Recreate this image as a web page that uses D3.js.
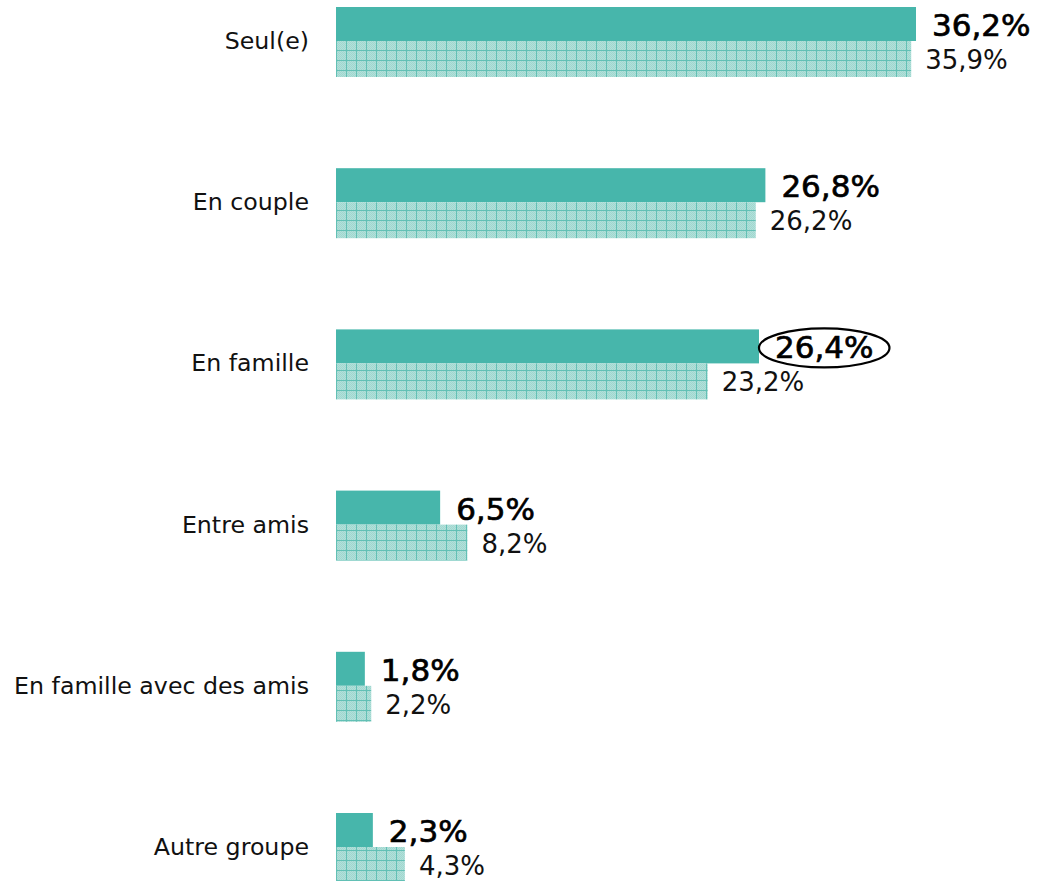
<!DOCTYPE html>
<html><head><meta charset="utf-8">
<script src="https://cdn.jsdelivr.net/npm/d3@7"></script>
<style>body{margin:0;background:#fff}</style>
</head><body>
<svg id="c" width="1037" height="881"></svg>
<script>
const categories = ["Seul(e)","En couple","En famille","Entre amis","En famille avec des amis","Autre groupe"];
const seriesA = [36.2, 26.8, 26.4, 6.5, 1.8, 2.3];
const seriesB = [35.9, 26.2, 23.2, 8.2, 2.2, 4.3];
const labelsA = ["36,2%","26,8%","26,4%","6,5%","1,8%","2,3%"];
const labelsB = ["35,9%","26,2%","23,2%","8,2%","2,2%","4,3%"];
const highlighted = ["En famille"];

const svg = d3.select("#c");
const defs = svg.append("defs");
const ck = defs.append("pattern").attr("id","chk").attr("patternUnits","userSpaceOnUse").attr("width",2).attr("height",2);
ck.append("rect").attr("width",2).attr("height",2).attr("fill","#b2e0da");
ck.append("rect").attr("width",1).attr("height",1).attr("fill","#a0d7cf");
ck.append("rect").attr("x",1).attr("y",1).attr("width",1).attr("height",1).attr("fill","#a0d7cf");
const p = defs.append("pattern").attr("id","grid").attr("patternUnits","userSpaceOnUse")
  .attr("width",10).attr("height",10).attr("x",336).attr("y",0);
p.append("rect").attr("width",10).attr("height",10).attr("fill","url(#chk)");
p.append("rect").attr("x",0).attr("y",0).attr("width",1).attr("height",10).attr("fill","#62c0b5");
p.append("rect").attr("x",0).attr("y",0).attr("width",10).attr("height",1).attr("fill","#62c0b5");

const x = d3.scaleLinear().domain([0, 36.2]).range([336, 916]);
const y = d3.scaleBand().domain(categories).range([7, 7 + 161.2 * categories.length]);
const bh = 34;

const g = svg.append("g");
categories.forEach((c, i) => {
  const top = y(c);
  g.append("rect").attr("x", x(0)).attr("y", top).attr("width", x(seriesA[i]) - x(0)).attr("height", bh).attr("fill", "#47b6ab");
  g.append("rect").attr("x", x(0)).attr("y", top + bh).attr("width", x(seriesB[i]) - x(0)).attr("height", 36).attr("fill", "url(#grid)");
  g.append("text").attr("x", 309).attr("y", top + 42).attr("text-anchor", "end")
    .attr("font-family", "'DejaVu Sans', sans-serif").attr("font-size", 23.7).attr("fill", "#111").text(c);
  const ta = g.append("text").attr("x", x(seriesA[i]) + 16).attr("y", top + 29)
    .attr("font-family", "'DejaVu Sans', sans-serif").attr("font-size", 31).attr("fill", "#000")
    .attr("stroke", "#000").attr("stroke-width", 0.7).text(labelsA[i]);
  g.append("text").attr("x", x(seriesB[i]) + 14).attr("y", top + 62)
    .attr("font-family", "'DejaVu Sans', sans-serif").attr("font-size", 26).attr("fill", "#111").text(labelsB[i]);
  if (highlighted.includes(c)) {
    const bb = ta.node().getBBox();
    g.append("ellipse").attr("cx", bb.x + bb.width / 2).attr("cy", top + 18.5).attr("rx", bb.width / 2 + 16).attr("ry", 19.5)
      .attr("fill", "none").attr("stroke", "#000").attr("stroke-width", 2.2);
  }
});
</script>
</body></html>
